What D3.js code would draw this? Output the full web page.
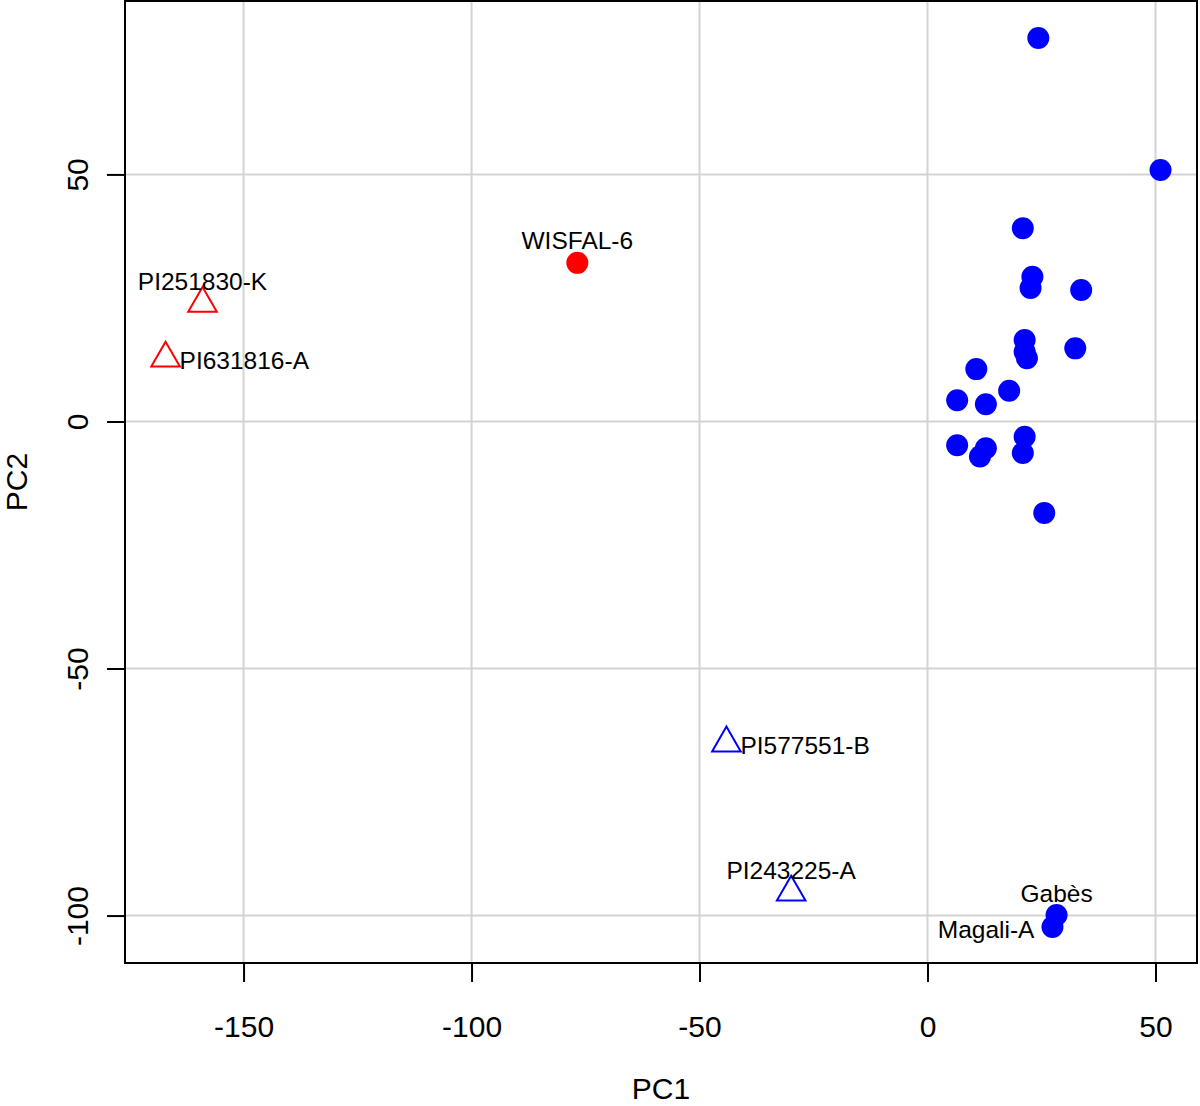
<!DOCTYPE html>
<html>
<head>
<meta charset="utf-8">
<script src="https://cdn.jsdelivr.net/npm/d3@7"></script>
<style>
  html, body { margin: 0; padding: 0; background: #fff; }
  svg { display: block; }
  text { font-family: "Liberation Sans", Arial, Helvetica, sans-serif; fill: #000; }
</style>
</head>
<body>
<svg id="chart" width="1200" height="1106"></svg>
<script>
// ---- data ----
const names = [
  "", "", "", "", "", "", "", "", "", "",
  "", "", "", "", "", "", "", "", "", "",
  "Gabès", "Magali-A", "WISFAL-6",
  "PI251830-K", "PI631816-A", "PI577551-B", "PI243225-A"
];
const pc1 = [
  24.3, 51.1, 20.9, 23.0, 22.6, 33.7, 21.3, 21.3, 21.8, 32.4,
  10.7, 17.9, 6.5, 12.8, 6.5, 12.8, 11.5, 21.3, 20.9, 25.6,
  28.3, 27.4, -76.8,
  -159.0, -167.1, -44.1, -29.9
];
const pc2 = [
  77.6, 50.9, 39.1, 29.3, 27.0, 26.6, 16.5, 14.1, 12.8, 14.8,
  10.6, 6.2, 4.3, 3.5, -4.8, -5.4, -7.1, -3.1, -6.4, -18.5,
  -99.9, -102.3, 32.1,
  23.9, 12.8, -65.1, -95.3
];
// group: "dot" = filled circle, "tri" = open triangle
const shape = [
  "dot","dot","dot","dot","dot","dot","dot","dot","dot","dot",
  "dot","dot","dot","dot","dot","dot","dot","dot","dot","dot",
  "dot","dot","dot",
  "tri","tri","tri","tri"
];
const colour = [
  "blue","blue","blue","blue","blue","blue","blue","blue","blue","blue",
  "blue","blue","blue","blue","blue","blue","blue","blue","blue","blue",
  "blue","blue","red",
  "red","red","blue","blue"
];
// label side: 2 = left, 3 = above, 4 = right (as in R's pos)
const labelPos = [
  0,0,0,0,0,0,0,0,0,0,
  0,0,0,0,0,0,0,0,0,0,
  3, 2, 3,
  3, 4, 4, 3
];
const xTicks = [-150, -100, -50, 0, 50];
const yTicks = [-100, -50, 0, 50];
const xTitle = "PC1";
const yTitle = "PC2";

// ---- layout ----
const L = 125, R = 1197, T = 1, B = 963;
const svg = d3.select("#chart");
const x = d3.scaleLinear().domain([-176, 59.1]).range([L, R]);
const y = d3.scaleLinear().domain([-109.6, 85.1]).range([B, T]);
const fmt = d => String(d);

const pts = names.map((n, i) => ({name: n, x: pc1[i], y: pc2[i], shape: shape[i], col: colour[i], pos: labelPos[i]}));

// grid
const grid = svg.append("g");
grid.selectAll("line.gx").data(xTicks).enter().append("line")
  .attr("x1", d => x(d)).attr("x2", d => x(d)).attr("y1", T).attr("y2", B)
  .attr("stroke", "#d3d3d3").attr("stroke-width", 2);
grid.selectAll("line.gy").data(yTicks).enter().append("line")
  .attr("x1", L).attr("x2", R).attr("y1", d => y(d)).attr("y2", d => y(d))
  .attr("stroke", "#d3d3d3").attr("stroke-width", 2);

// axes (R style: ticks outside, labels)
const xAxis = d3.axisBottom(x).tickValues(xTicks).tickSize(19).tickPadding(0).tickFormat(fmt);
const gx = svg.append("g").attr("transform", `translate(0,${B})`).call(xAxis);
gx.select(".domain").remove();
gx.selectAll(".tick line").attr("stroke", "#000").attr("stroke-width", 2);
gx.selectAll(".tick text").attr("font-size", 30).attr("dy", null).attr("y", 74)
  .style("font-family", "Liberation Sans, Arial, sans-serif").attr("fill", "#000");

const yAxis = d3.axisLeft(y).tickValues(yTicks).tickSize(18).tickPadding(0).tickFormat(fmt);
const gy = svg.append("g").attr("transform", `translate(${L},0)`).call(yAxis);
gy.select(".domain").remove();
gy.selectAll(".tick line").attr("stroke", "#000").attr("stroke-width", 2);
gy.selectAll(".tick text")
  .attr("font-size", 30).attr("x", null).attr("dy", null)
  .attr("text-anchor", "middle")
  .attr("transform", "translate(-37.5,0) rotate(-90)")
  .style("font-family", "Liberation Sans, Arial, sans-serif").attr("fill", "#000");

// points
const dots = pts.filter(p => p.shape === "dot");
svg.append("g").selectAll("circle").data(dots).enter().append("circle")
  .attr("cx", d => x(d.x)).attr("cy", d => y(d.y)).attr("r", 11)
  .attr("fill", d => d.col);

const tri = d3.symbol().type(d3.symbolTriangle).size(354);
const tris = pts.filter(p => p.shape === "tri");
svg.append("g").selectAll("path").data(tris).enter().append("path")
  .attr("d", tri)
  .attr("transform", d => `translate(${x(d.x)},${y(d.y)})`)
  .attr("fill", "none").attr("stroke", d => d.col).attr("stroke-width", 2);

// labels
const labelled = pts.filter(p => p.name !== "");
svg.append("g").selectAll("text").data(labelled).enter().append("text")
  .attr("font-size", 24.5)
  .attr("x", d => x(d.x) + (d.pos === 4 ? 14 : d.pos === 2 ? -18 : 0))
  .attr("y", d => y(d.y) + (d.pos === 3 ? -13.5 : 10.8))
  .attr("text-anchor", d => d.pos === 4 ? "start" : d.pos === 2 ? "end" : "middle")
  .text(d => d.name);

// box
svg.append("rect").attr("x", L).attr("y", T).attr("width", R - L).attr("height", B - T)
  .attr("fill", "none").attr("stroke", "#000").attr("stroke-width", 2);

// titles
svg.append("text").attr("x", (L + R) / 2).attr("y", 1099).attr("text-anchor", "middle")
  .attr("font-size", 30).text(xTitle);
svg.append("text").attr("transform", `translate(27,${(T + B) / 2}) rotate(-90)`)
  .attr("text-anchor", "middle").attr("font-size", 30).text(yTitle);
</script>
</body>
</html>
